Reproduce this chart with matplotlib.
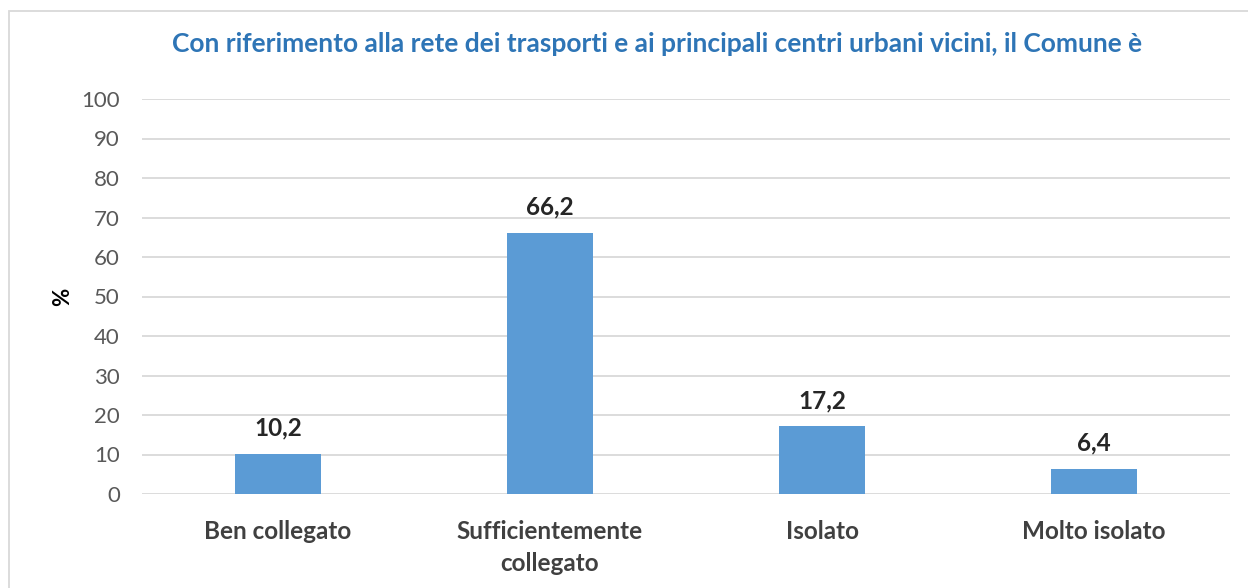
import matplotlib.pyplot as plt
from matplotlib.patches import Rectangle

categories = ["Ben collegato", "Sufficientemente\ncollegato", "Isolato", "Molto isolato"]
values = [10.2, 66.2, 17.2, 6.4]
value_labels = ["10,2", "66,2", "17,2", "6,4"]
yticks = [0, 10, 20, 30, 40, 50, 60, 70, 80, 90, 100]
title = "Con riferimento alla rete dei trasporti e ai principali centri urbani vicini, il Comune è"

plt.rcParams['font.family'] = ['Lato', 'DejaVu Sans']

fig = plt.figure(figsize=(12.48, 5.88), dpi=100)
ax = fig.add_axes([142/1248, 1-494/588, (1230-142)/1248, (494-99)/588])

x = range(len(categories))
ax.bar(x, values, width=0.316, color="#5B9BD5", zorder=3)
for xi, v, lab in zip(x, values, value_labels):
    ax.annotate(lab, (xi, v), xytext=(0, 10), textcoords="offset points",
                ha="center", va="bottom", fontsize=17.5, fontweight="bold", color="#262626")

ax.set_xlim(-0.5, len(categories) - 0.5)
ax.set_ylim(0, 100)
ax.set_yticks(yticks)
ax.set_yticklabels([str(t) for t in yticks], fontsize=16, color="#595959")
ax.set_xticks(list(x))
ax.set_xticklabels(categories, fontsize=17.5, fontweight="bold", color="#404040", linespacing=1.45)
ax.tick_params(axis="both", length=0)
ax.tick_params(axis="x", pad=19)
ax.tick_params(axis="y", pad=16)
ax.grid(axis="y", color="#D9D9D9", linewidth=1.3, zorder=0)
for s in ax.spines.values():
    s.set_visible(False)
ax.set_ylabel("%", fontsize=16, fontweight="bold", color="black", labelpad=6)

fig.text(657/1248, 1-44/588, title, ha="center", va="center", fontsize=19,
         fontweight="bold", color="#2E75B6")

fig.patches.append(Rectangle((9/1248, -0.01), 1.0, 1-11/588 + 0.01,
                             transform=fig.transFigure, fill=False,
                             edgecolor="#D9D9D9", linewidth=1.3))

fig.savefig("out.png", dpi=100)
